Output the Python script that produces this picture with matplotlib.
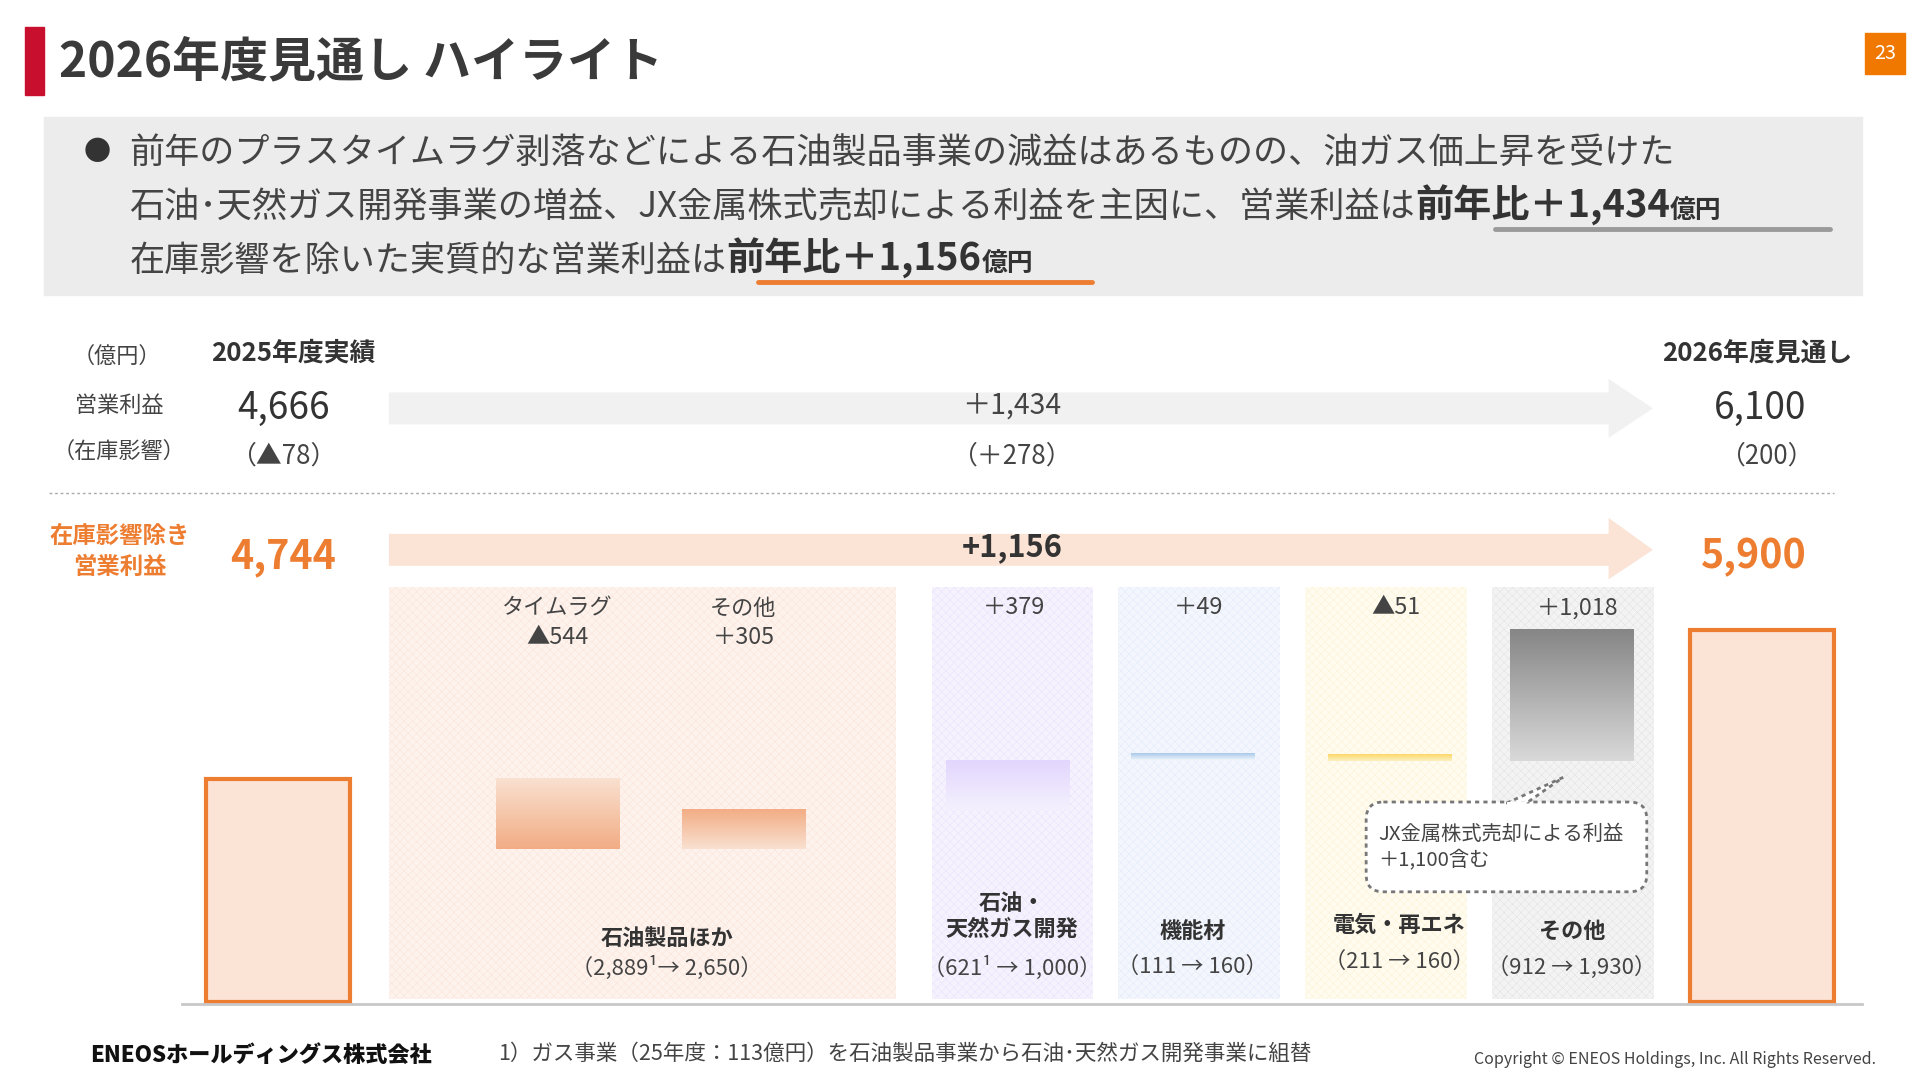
import matplotlib
matplotlib.use("Agg")
import matplotlib.pyplot as plt
import numpy as np
from matplotlib.patches import Rectangle, Polygon, FancyBboxPatch

plt.rcParams['font.family'] = ['Noto Sans CJK JP', 'DejaVu Sans']
plt.rcParams['hatch.linewidth'] = 0.3

# ---------------- data ----------------
start_label = "2025年度実績"
end_label = "2026年度見通し"
op_profit = [4666, 6100]
op_diff = "＋1,434"
inv_effect = ["（▲78）", "（＋278）", "（200）"]
core_start = 4744
core_end = 5900
core_diff = "+1,156"
step_names = ["タイムラグ", "その他", "石油・天然ガス開発", "機能材", "電気・再エネ", "その他"]
step_values = [-544, 305, 379, 49, -51, 1018]
step_labels = ["▲544", "＋305", "＋379", "＋49", "▲51", "＋1,018"]
seg_names = ["石油製品ほか", "石油・\n天然ガス開発", "機能材", "電気・再エネ", "その他"]
seg_ranges = ["（2,889¹→ 2,650）", "（621¹ → 1,000）", "（111 → 160）", "（211 → 160）", "（912 → 1,930）"]

# ---------------- layout (display px of a 1560x878 canvas) ----------------
W, H = 1560, 878
fig = plt.figure(figsize=(19.2, 10.8), dpi=100)
ax = fig.add_axes([0, 0, 1, 1])
ax.set_xlim(0, W); ax.set_ylim(H, 0); ax.axis('off')
fs = lambda px: px * 0.886

ORANGE = '#ed7d31'
ax.add_patch(Rectangle((20, 22), 16, 55, color='#c8102e'))
ax.text(48, 50, "2026年度見通し ハイライト", fontsize=fs(39), fontweight='bold', color='#3a3a3a', va='center')
ax.add_patch(Rectangle((1515, 27), 33, 33, color='#f07800'))
ax.text(1531.5, 43.5, "23", fontsize=fs(16), color='white', ha='center', va='center')

ax.add_patch(Rectangle((36, 95), 1477, 145, color='#ececec'))
ax.text(68, 124, "●", fontsize=fs(22), color='#333', va='center')
TXT = '#444444'
ax.text(105, 124, "前年のプラスタイムラグ剥落などによる石油製品事業の減益はあるものの、油ガス価上昇を受けた",
        fontsize=fs(28.5), color=TXT, va='center')

fig.canvas.draw()
r = fig.canvas.get_renderer()
inv = ax.transData.inverted()
def chain(x, y, parts):
    for s, size, w in parts:
        t = ax.text(x, y, s, fontsize=fs(size), color=TXT if w == 'normal' else '#333', fontweight=w, va='baseline')
        bb = t.get_window_extent(r)
        x = inv.transform((bb.x1, bb.y0))[0]
    return x
chain(105, 177, [("石油･天然ガス開発事業の増益、JX金属株式売却による利益を主因に、営業利益は", 28.5, 'normal'),
                 ("前年比＋1,434", 31, 'bold'), ("億円", 21, 'bold')])
chain(105, 220, [("在庫影響を除いた実質的な営業利益は", 28.5, 'normal'),
                 ("前年比＋1,156", 31, 'bold'), ("億円", 21, 'bold')])
ax.plot([1215, 1487], [186, 186], color='#9a9a9a', lw=3.5, solid_capstyle='round')
ax.plot([616, 887], [229, 229], color=ORANGE, lw=3.5, solid_capstyle='round')

# header rows
ax.text(95, 291, "（億円）", fontsize=fs(18), color=TXT, ha='center', va='center')
ax.text(238, 287, start_label, fontsize=fs(21), fontweight='bold', color='#333', ha='center', va='center')
ax.text(1428, 287, end_label, fontsize=fs(21), fontweight='bold', color='#333', ha='center', va='center')
ax.text(97, 330, "営業利益", fontsize=fs(18), color=TXT, ha='center', va='center')
ax.text(97, 368, "（在庫影響）", fontsize=fs(18), color=TXT, ha='center', va='center')
ax.text(230, 332, f"{op_profit[0]:,}", fontsize=fs(30), color='#333', ha='center', va='center')
ax.text(1430, 332, f"{op_profit[1]:,}", fontsize=fs(30), color='#333', ha='center', va='center')
ax.text(230, 371, inv_effect[0], fontsize=fs(21), color=TXT, ha='center', va='center')
ax.text(822, 371, inv_effect[1], fontsize=fs(21), color=TXT, ha='center', va='center')
ax.text(1435, 371, inv_effect[2], fontsize=fs(21), color=TXT, ha='center', va='center')

def arrow(y0, y1, hy0, hy1, color):
    ax.add_patch(Polygon([(316, y0), (1307, y0), (1307, hy0), (1343, (y0 + y1) / 2),
                          (1307, hy1), (1307, y1), (316, y1)], closed=True, color=color, lw=0))
arrow(319, 345, 308, 356, '#f1f1f1')
ax.text(822, 330, op_diff, fontsize=fs(23), color=TXT, ha='center', va='center')
ax.plot([40, 1490], [401, 401], color='#aaaaaa', lw=1, ls=(0, (2, 2)))
arrow(434, 460, 421, 471, '#fbe3d6')
ax.text(822, 445, core_diff, fontsize=fs(25), fontweight='bold', color='#333', ha='center', va='center')
ax.text(97, 436, "在庫影響除き", fontsize=fs(19), fontweight='bold', color=ORANGE, ha='center', va='center')
ax.text(97, 461, "営業利益", fontsize=fs(19), fontweight='bold', color=ORANGE, ha='center', va='center')
ax.text(230, 453, f"{core_start:,}", fontsize=fs(32), fontweight='bold', color=ORANGE, ha='center', va='center')
ax.text(1425, 453, f"{core_end:,}", fontsize=fs(32), fontweight='bold', color=ORANGE, ha='center', va='center')

# segment panels
panels = [(316, 728, '#fdf2ec', '#fbe2d5'), (757, 888, '#f5f2fe', '#e6defc'), (908, 1040, '#f3f6fd', '#e0e9f8'),
          (1060, 1192, '#fffbee', '#fbf0d0'), (1212, 1344, '#f3f3f3', '#dfdfdf')]
for x0, x1, fc, hc in panels:
    ax.add_patch(Rectangle((x0, 477), x1 - x0, 335, facecolor=fc, edgecolor=hc, hatch='xxxx', lw=0, zorder=0.5))

seg_x = [542, 822, 969, 1137, 1277]
seg_y = [763, 745, 757, 752, 757]
rng_y = [787, 787, 787, 783, 787]
for i in range(5):
    ax.text(seg_x[i], seg_y[i], seg_names[i], fontsize=fs(18), fontweight='bold', color='#333', ha='center',
            va='center', linespacing=1.2)
    ax.text(seg_x[i], rng_y[i], seg_ranges[i], fontsize=fs(18), color=TXT, ha='center', va='center')

# ---------------- waterfall (data axes) ----------------
ax2 = fig.add_axes([0, 0, 1, 1], zorder=2)
ax2.patch.set_alpha(0)
base = 3005
xs = [453, 604, 819, 969, 1129, 1277]
w = 100
ax2.bar([226, 1432], [core_start - base, core_end - base], bottom=base, width=[117, 117],
        color='#fbe3d6', edgecolor=ORANGE, lw=3)
grads = [('#f9e0d0', '#f2ad85'), ('#f2ad85', '#f9e0d0'), ('#e2d6fd', '#f4f0fe'),
         ('#a9c9ea', '#eef4fb'), ('#fbd86a', '#fdf0c0'), ('#868686', '#d9d9d9')]
level = core_start
for i, v in enumerate(step_values):
    lo, hi = sorted([level, level + v])
    top_c, bot_c = grads[i]
    c0 = np.array(matplotlib.colors.to_rgb(top_c)); c1 = np.array(matplotlib.colors.to_rgb(bot_c))
    t = np.linspace(0, 1, 64)[:, None]
    img = (c0 * (1 - t) + c1 * t)[:, None, :]
    hh = max(hi - lo, 40)
    ax2.imshow(img, extent=(xs[i] - w / 2, xs[i] + w / 2, lo, lo + hh), origin='upper',
               aspect='auto', zorder=3)
    level += v
ax2.set_xlim(0, W); ax2.set_ylim(2403, 10789); ax2.axis('off')
ax2.axhline(base - 8, xmin=148 / W, xmax=1513 / W, color='#c8c8c8', lw=2, zorder=1)

for i, (nm, lab) in enumerate(zip(step_names, step_labels)):
    if i < 2:
        ax.text(xs[i], 495, nm, fontsize=fs(18), color=TXT, ha='center', va='center')
        ax.text(xs[i], 518, lab, fontsize=fs(19), color=TXT, ha='center', va='center')
    else:
        ax.text(xs[i] + 5, 494, lab, fontsize=fs(19), color=TXT, ha='center', va='center')

# callout
ax3 = fig.add_axes([0, 0, 1, 1], zorder=4); ax3.set_xlim(0, W); ax3.set_ylim(H, 0); ax3.axis('off')
ax3.patch.set_alpha(0)
ax3.add_patch(FancyBboxPatch((1110, 652), 228, 73, boxstyle='round,pad=0,rounding_size=14',
                             facecolor='white', edgecolor='#777', ls=(0, (1.5, 1.5)), lw=2))
ax3.add_patch(Polygon([(1224, 653), (1270, 632), (1240, 653)], closed=True, facecolor='white',
                      edgecolor='#777', ls=(0, (1.5, 1.5)), lw=2))
ax3.plot([1226, 1238], [654, 654], color='white', lw=3)
ax3.text(1120, 678, "JX金属株式売却による利益", fontsize=fs(16.5), color=TXT, va='center')
ax3.text(1120, 699, "＋1,100含む", fontsize=fs(16.5), color=TXT, va='center')

# footer
ax.text(73, 858, "ENEOSホールディングス株式会社", fontsize=fs(18), fontweight='heavy', color='#111', va='center')
ax.text(405, 857, "1）ガス事業（25年度：113億円）を石油製品事業から石油･天然ガス開発事業に組替",
        fontsize=fs(17.5), color=TXT, va='center')
ax.text(1198, 861, "Copyright © ENEOS Holdings, Inc. All Rights Reserved.", fontsize=fs(13), color=TXT, va='center')

fig.savefig("out.png", dpi=100)
